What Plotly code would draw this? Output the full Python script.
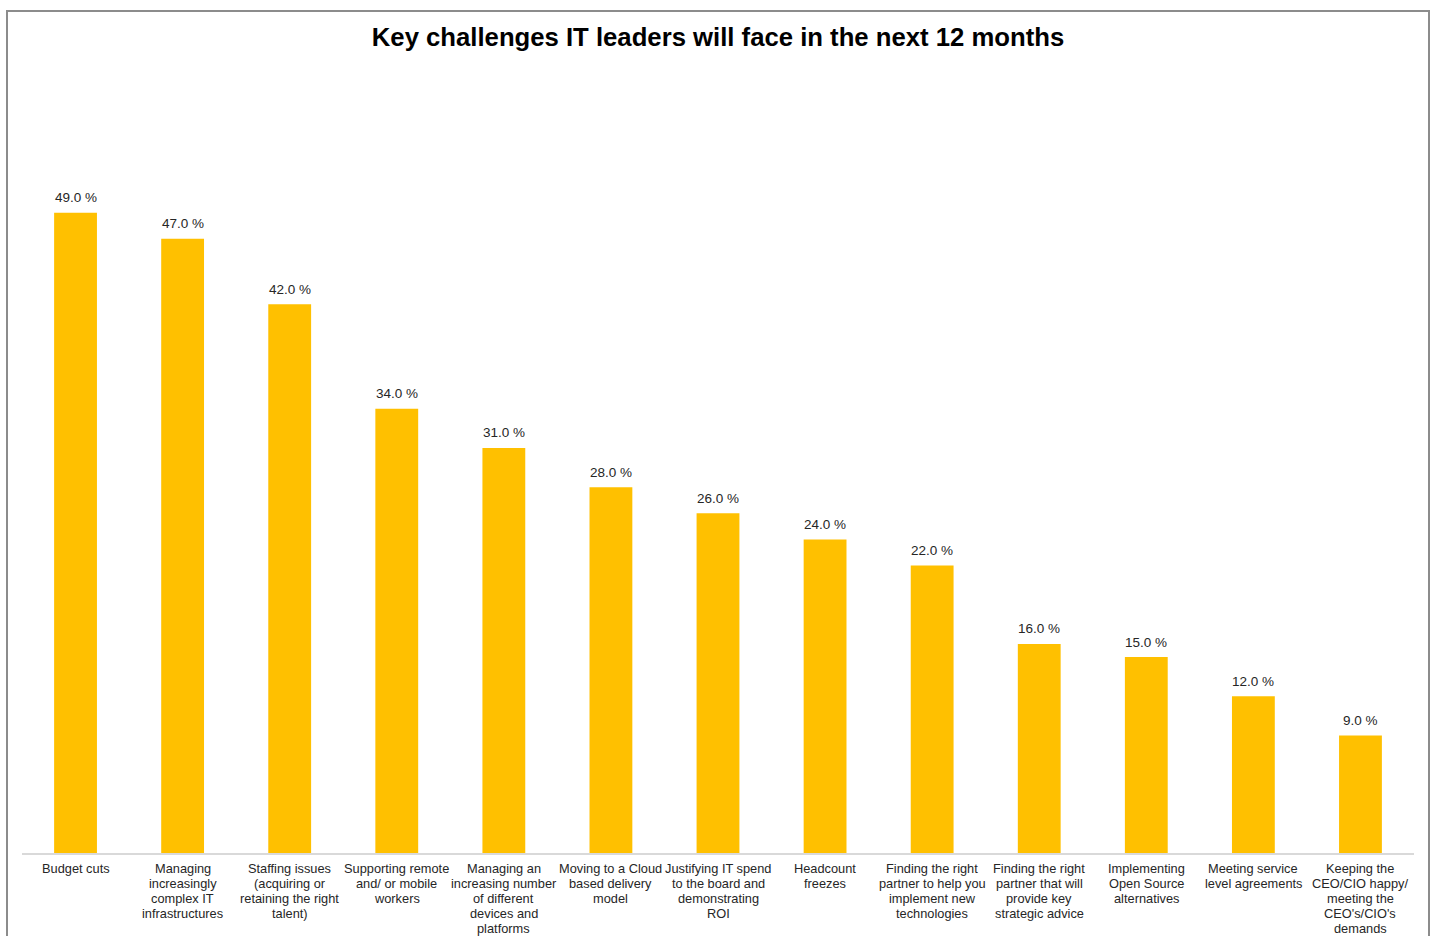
import plotly.graph_objects as go

# Survey results: share of IT leaders naming each challenge (%)
categories = [
    "Budget cuts",
    "Managing<br>increasingly<br>complex IT<br>infrastructures",
    "Staffing issues<br>(acquiring or<br>retaining the right<br>talent)",
    "Supporting remote<br>and/ or mobile<br>workers",
    "Managing an<br>increasing number<br>of different<br>devices and<br>platforms",
    "Moving to a Cloud<br>based delivery<br>model",
    "Justifying IT spend<br>to the board and<br>demonstrating<br>ROI",
    "Headcount<br>freezes",
    "Finding the right<br>partner to help you<br>implement new<br>technologies",
    "Finding the right<br>partner that will<br>provide key<br>strategic advice",
    "Implementing<br>Open Source<br>alternatives",
    "Meeting service<br>level agreements",
    "Keeping the<br>CEO/CIO happy/<br>meeting the<br>CEO's/CIO's<br>demands",
]
values = [49.0, 47.0, 42.0, 34.0, 31.0, 28.0, 26.0, 24.0, 22.0, 16.0, 15.0, 12.0, 9.0]
value_labels = [f"{v:.1f} %" for v in values]

W, H = 1435, 936
ML, MR, MT, MB = 22, 21, 69, 83
FONT = "Arial, Liberation Sans, sans-serif"
TEXT_COLOR = "#262626"

xs = list(range(len(categories)))

fig = go.Figure(
    go.Bar(
        x=xs,
        y=values,
        marker=dict(color="#FFC000", line=dict(width=0)),
        cliponaxis=False,
        hoverinfo="skip",
    )
)

annotations = []
# value labels above each bar
for x, v, lab in zip(xs, values, value_labels):
    annotations.append(dict(
        x=x, y=v, xref="x", yref="y", text=lab, showarrow=False,
        xanchor="center", yanchor="middle", yshift=15,
        font=dict(family=FONT, size=13.5, color=TEXT_COLOR),
    ))
# category labels under the axis, one line at a time
for x, cat in zip(xs, categories):
    for i, line in enumerate(cat.split("<br>")):
        annotations.append(dict(
            x=x, y=0, xref="x", yref="paper", text=line, showarrow=False,
            xanchor="center", yanchor="middle", yshift=-(15 + 15 * i),
            font=dict(family=FONT, size=12.8, color=TEXT_COLOR),
        ))

# outer frame around the chart area
pw, ph = W - ML - MR, H - MT - MB
fig.add_shape(
    type="rect", xref="paper", yref="paper",
    x0=(7 - ML) / pw, x1=(1429 - ML) / pw,
    y0=-0.5, y1=(H - MB - 11) / ph,
    line=dict(color="#8c8c8c", width=2), fillcolor="rgba(0,0,0,0)",
    layer="below",
)

fig.update_layout(
    width=W, height=H,
    margin=dict(l=ML, r=MR, t=MT, b=MB, pad=0, autoexpand=False),
    paper_bgcolor="white", plot_bgcolor="white",
    bargap=0.6,
    showlegend=False,
    annotations=annotations,
    title=dict(
        text="<b>Key challenges IT leaders will face in the next 12 months</b>",
        x=0.5, xanchor="center", xref="paper",
        y=1 - 37 / H, yanchor="middle", yref="container",
        font=dict(family=FONT, size=25.7, color="black"),
    ),
    xaxis=dict(
        range=[-0.5, len(categories) - 0.5],
        showline=True, linecolor="#d9d9d9", linewidth=1.5,
        showgrid=False, zeroline=False, ticks="", showticklabels=False,
        automargin=False, fixedrange=True,
    ),
    yaxis=dict(
        range=[0, 60], visible=False, showgrid=False, zeroline=False,
        automargin=False, fixedrange=True,
    ),
)

fig.write_html("out.html")
